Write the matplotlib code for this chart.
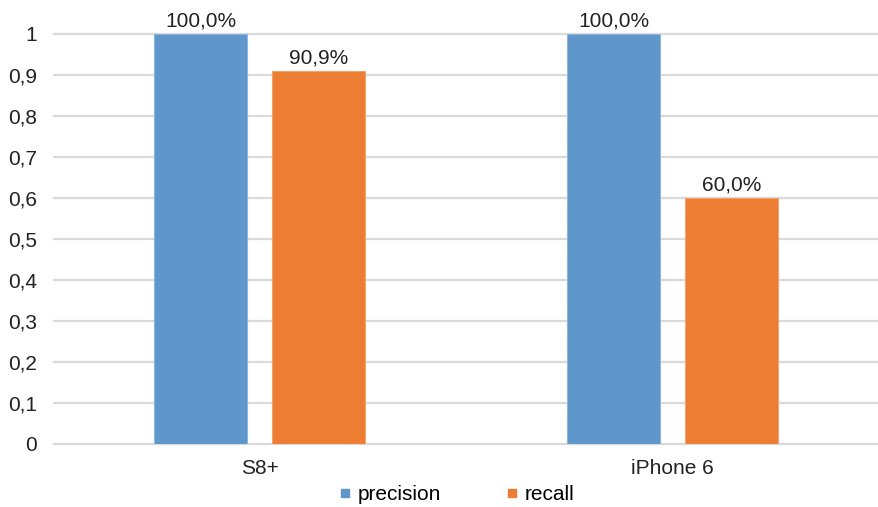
import matplotlib
matplotlib.use("Agg")
import matplotlib.pyplot as plt
import numpy as np
from matplotlib.lines import Line2D

categories = ["S8+", "iPhone 6"]
precision = [1.0, 1.0]
recall = [0.909, 0.60]
series_names = ["precision", "recall"]
yticks = [0, 0.1, 0.2, 0.3, 0.4, 0.5, 0.6, 0.7, 0.8, 0.9, 1.0]
ytick_labels = ["0", "0,1", "0,2", "0,3", "0,4", "0,5", "0,6", "0,7", "0,8", "0,9", "1"]

plt.rcParams['font.family'] = ['Liberation Sans', 'DejaVu Sans']
blue = "#5F97CB"
orange = "#EC7D32"
FS = 15

fig = plt.figure(figsize=(8.79, 5.07), dpi=100)
ax = fig.add_axes([0.0609, 0.1243, 0.9391, 0.8087])

x = np.arange(len(categories))
w = 0.225
off = 0.143
b1 = ax.bar(x - off, precision, w, color=blue, edgecolor="#8DB6DE", linewidth=0.8, zorder=3)
b2 = ax.bar(x + off, recall, w, color=orange, edgecolor="#F2A46F", linewidth=0.8, zorder=3)

def fmt(v):
    return f"{v*100:.1f}%".replace(".", ",")

for bars, vals in ((b1, precision), (b2, recall)):
    for r, v in zip(bars, vals):
        ax.text(r.get_x() + r.get_width() / 2, v + 0.008, fmt(v), ha="center", va="bottom",
                fontsize=FS, color="#222222", clip_on=False)

ax.set_xlim(-0.5, 1.5)
ax.set_ylim(0, 1)
ax.set_yticks(yticks)
ax.set_yticklabels(ytick_labels, fontsize=FS, color="#222222")
ax.set_xticks(x)
ax.set_xticklabels(categories, fontsize=FS, color="#222222")
ax.tick_params(axis="both", length=0)
ax.tick_params(axis="y", pad=12)
ax.tick_params(axis="x", pad=11)
for s in ax.spines.values():
    s.set_visible(False)
ax.yaxis.grid(True, color="#DADADA", linewidth=1.6, zorder=0, clip_on=False)
ax.set_axisbelow(True)

handles = [Line2D([0], [0], marker="s", linestyle="none", markersize=6, color=blue),
           Line2D([0], [0], marker="s", linestyle="none", markersize=6, color=orange)]
fig.legend(handles, series_names, loc="center", bbox_to_anchor=(0.5185, 0.024), ncol=2,
           frameon=False, fontsize=FS, handletextpad=0.2, columnspacing=3.0, handlelength=0.8)

fig.savefig("out.png", dpi=100)
